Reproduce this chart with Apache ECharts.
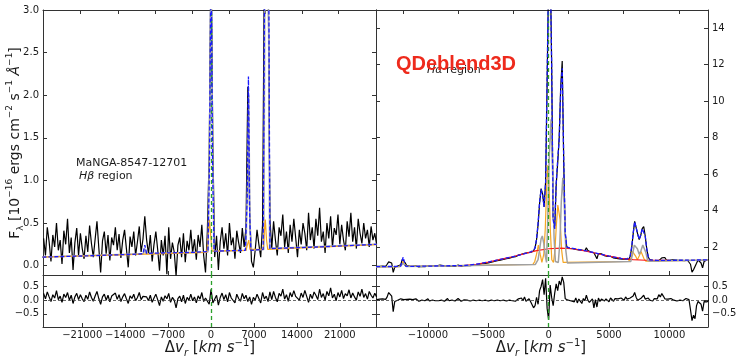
<!DOCTYPE html>
<html><head><meta charset="utf-8">
<script src="https://cdn.jsdelivr.net/npm/echarts@6/dist/echarts.min.js"></script>
<style>html,body{margin:0;padding:0;background:#fff}#c{width:740px;height:360px}</style>
</head><body><div id="c"></div>
<script>
// ---------------- DATA ----------------
// H-beta region (left panel): observed flux on a regular velocity grid
const hbVelStart = -27300, hbVelStep = 300;
const hbFlux = [
0.32,0.12,0.45,0.28,0.05,0.36,0.22,0.50,0.18,0.30,0.02,0.41,0.25,0.55,0.15,0.33,-0.05,0.27,0.44,0.12,
0.38,0.20,0.08,0.35,0.16,0.47,0.26,0.10,0.31,0.52,0.21,-0.08,0.29,0.40,0.14,0.36,0.06,0.33,0.24,0.45,
0.18,0.37,0.09,0.30,0.42,0.20,-0.02,0.34,0.22,0.40,0.12,0.28,0.46,0.16,0.31,
0.58,
0.30,0.14,0.36,0.05,0.25,0.40,0.19,-0.06,0.30,0.12,0.35,-0.10,0.45,0.08,0.27,0.16,-0.12,0.24,0.33,0.10,
0.38,0.04,0.29,0.18,0.42,0.15,0.31,0.07,0.36,0.22,0.48,0.12,-0.08,
0.40,1.30,3.70,1.40,0.10,
0.35,-0.05,0.28,0.45,0.20,0.38,0.12,0.50,0.24,0.33,0.08,0.41,0.27,0.15,0.44,0.22,
0.45,2.10,0.60,
0.05,-0.02,0.18,0.42,0.25,0.10,0.48,
3.60,3.80,3.60,0.55,
0.20,0.52,0.30,0.12,0.45,0.35,0.60,0.22,0.40,0.15,
0.48,0.28,0.55,0.33,0.10,0.42,0.25,0.50,0.38,0.18,
0.62,0.30,0.45,0.20,0.55,0.35,0.68,0.28,0.40,0.15,
0.50,0.32,0.58,0.22,0.44,0.36,0.60,0.25,0.48,0.30,
0.18,0.52,0.34,0.62,0.28,0.45,0.20,0.55,0.38,0.26,
0.50,0.32,0.42,0.22,0.46,0.30,0.38,0.25
];
const hbResid = [
0.25,0.05,0.30,0.12,-0.05,0.20,0.08,0.35,0.02,0.15,-0.08,0.22,0.10,0.28,0.00,0.18,-0.12,0.12,0.25,0.02,
0.20,0.05,-0.05,0.18,0.03,0.30,0.10,-0.04,0.15,0.32,0.06,-0.15,0.12,0.22,0.00,0.18,-0.06,0.15,0.08,0.26,
0.03,0.20,-0.05,0.12,0.24,0.05,-0.12,0.16,0.06,0.22,-0.02,0.10,0.28,0.02,0.14,0.15,0.12,-0.02,0.18,-0.08,
0.08,0.22,0.02,-0.20,0.12,-0.04,0.16,0.05,0.25,-0.08,0.10,0.00,-0.28,0.06,0.15,-0.06,0.18,-0.12,0.10,0.00,
0.22,-0.02,0.12,-0.10,0.16,0.04,0.28,-0.05,0.08,0.15,-0.15,0.40,-0.10,-0.06,0.18,-0.18,0.10,0.26,0.02,0.20,
-0.06,0.28,0.08,0.15,-0.10,0.22,0.06,-0.04,0.25,0.05,0.18,-0.05,0.12,-0.15,0.10,0.00,0.22,0.06,-0.10,0.28,
0.05,0.15,-0.05,0.30,0.02,0.32,0.10,-0.06,0.25,0.15,0.40,0.04,0.20,-0.04,0.28,0.12,0.35,0.14,0.20,0.00,
0.26,0.10,0.36,0.14,-0.08,0.22,0.06,0.30,0.18,0.02,0.40,0.10,0.24,0.00,0.32,0.16,0.45,0.08,0.22,-0.02,
0.28,0.12,0.36,0.06,0.24,0.16,0.38,0.08,0.26,0.12,0.00,0.30,0.14,0.40,0.10,0.24,0.04,0.32,0.18,0.08,0.25,0.12
];
// H-beta model curves: [velocity, flux]
const hbModel = [[-27500,0.10],[-20000,0.115],[-12000,0.135],[-11100,0.14],[-10800,0.24],[-10500,0.145],[-3000,0.155],[-500,0.165],[-250,1.2],[0,3.8],[250,1.2],[500,0.17],[5600,0.18],[5900,0.8],[6100,2.22],[6300,0.6],[6500,0.18],[8500,0.19],[8750,3.6],[9100,3.8],[9400,3.6],[9600,0.2],[18000,0.22],[27000,0.25]];
const hbNarrow = [[-27500,0.10],[-11000,0.14],[-10800,0.2],[-10600,0.14],[-500,0.16],[-250,1.5],[0,3.6],[250,1.5],[500,0.17],[5700,0.18],[6000,1.2],[6150,2.0],[6350,0.5],[6600,0.18],[8600,0.19],[8800,3.5],[9100,3.6],[9350,3.5],[9550,0.2],[27000,0.25]];
const hbBroad = [[-27500,0.10],[-700,0.155],[-450,0.35],[-250,0.54],[-50,0.35],[150,0.17],[5700,0.18],[5950,0.25],[6150,0.3],[6350,0.19],[8500,0.19],[8700,0.4],[8850,0.54],[9050,0.3],[9250,0.19],[27000,0.245]];

// H-alpha region (right panel)
const haVelStart = -14250, haVelStep = 125;
const haFlux = [
0.93,0.91,0.94,0.92,0.95,0.90,0.93,1.05,1.18,1.22,
1.12,0.60,0.88,0.93,0.95,0.92,1.02,1.32,1.42,1.12,
0.97,0.93,0.95,0.91,0.94,0.92,0.96,0.93,0.90,0.95,
0.93,0.97,0.92,0.94,0.96,0.91,0.95,0.93,0.98,0.94,
0.96,0.93,1.00,0.95,0.97,0.92,0.96,0.99,0.94,0.97,
0.95,0.99,0.93,0.97,1.01,0.96,0.94,0.99,0.97,1.02,
0.98,1.01,0.97,1.03,1.00,1.05,1.02,1.06,1.04,1.09,
1.08,1.12,1.10,1.15,1.13,1.18,1.16,1.22,1.20,1.26,
1.24,1.30,1.28,1.33,1.31,1.37,1.35,1.40,1.38,1.45,
1.44,1.48,1.46,1.52,1.55,1.53,1.60,1.58,1.65,1.62,
1.68,1.72,1.70,1.76,1.78,1.95,2.40,3.20,4.40,5.20,
4.90,4.20,5.60,11.0,17.0,18.0,12.0,3.60,3.00,5.40,
6.60,8.00,10.8,12.2,6.60,2.70,2.00,1.95,1.92,1.96,
1.90,1.93,1.87,1.91,1.84,1.88,1.82,1.85,1.79,1.95,
1.80,1.74,1.72,1.76,1.68,1.66,1.35,1.63,1.58,1.62,
1.56,1.52,1.55,1.48,1.45,1.49,1.42,1.40,1.43,1.37,
1.36,1.34,1.37,1.33,1.31,1.34,1.30,1.32,1.46,1.92,
2.70,3.40,3.30,2.70,2.40,2.62,3.00,3.12,2.60,1.90,
1.45,1.30,1.28,1.26,1.29,1.25,1.27,1.24,1.28,1.40,
1.46,1.42,1.28,1.32,1.27,1.25,1.29,1.26,1.28,1.25,
1.27,1.30,1.26,1.28,1.25,1.29,1.27,1.24,1.05,0.62,
0.75,0.68,1.10,1.28,1.26,1.12,0.85,1.20,1.30,1.28,1.31
];
const haResid = [
0.02,-0.03,0.04,0.00,0.05,-0.02,0.03,0.12,0.28,0.25,
0.15,-0.42,-0.05,0.02,0.00,-0.03,0.05,0.10,0.02,-0.04,
0.03,0.00,0.04,-0.03,0.02,-0.01,0.05,0.00,-0.04,0.03,
0.00,0.04,-0.02,0.03,0.05,-0.03,0.02,0.00,0.06,-0.02,
0.03,-0.02,0.05,0.00,0.04,-0.04,0.02,0.06,-0.02,0.03,
0.00,0.05,-0.03,0.02,0.06,0.00,-0.04,0.03,0.01,0.05,
0.00,0.03,-0.03,0.04,0.00,0.06,-0.02,0.03,0.00,0.05,
-0.02,0.04,0.00,0.05,-0.03,0.03,0.00,0.06,-0.02,0.04,
0.00,0.05,-0.02,0.03,0.00,0.06,-0.03,0.04,0.00,0.05,
-0.02,0.03,-0.04,0.02,0.05,0.00,0.08,-0.02,0.12,-0.04,
0.03,0.05,-0.05,0.00,-0.28,-0.20,0.10,-0.15,0.35,0.50,
0.75,0.20,0.80,-0.30,-0.72,0.55,0.10,-0.20,0.25,0.60,
0.35,0.70,0.55,0.85,0.65,0.05,-0.02,0.00,0.05,-0.03,
0.02,-0.06,0.08,-0.10,0.04,0.00,-0.12,0.06,-0.02,0.18,
0.00,-0.08,-0.15,0.05,-0.28,0.02,-0.25,0.08,-0.05,0.04,
0.10,-0.03,0.05,0.00,-0.06,0.08,0.02,-0.04,0.06,0.00,
0.05,-0.02,0.08,0.03,0.00,0.12,0.04,-0.03,0.08,0.02,
0.15,0.28,0.10,0.00,0.05,0.06,0.12,0.18,0.04,0.02,
0.08,0.00,0.05,-0.03,0.06,0.02,0.05,0.20,0.12,0.24,
0.15,0.05,0.00,0.04,-0.02,0.06,0.03,0.00,0.05,-0.03,
0.04,0.00,0.05,-0.02,0.03,0.06,0.00,0.02,-0.35,-0.75,
-0.55,-0.68,-0.20,-0.05,0.02,-0.15,-0.40,-0.05,0.02,-0.06,0.00
];
const haModel = [[-14300,0.92],[-12500,0.93],[-12250,0.95],[-12050,1.44],[-11850,0.95],[-11500,0.93],[-9000,0.96],[-7000,0.98],[-6000,1.05],[-5000,1.17],[-4000,1.32],[-3000,1.46],[-2000,1.63],[-1500,1.72],[-1250,1.82],[-1125,1.95],[-1000,2.45],[-875,3.3],[-750,4.45],[-625,5.15],[-500,4.85],[-375,4.2],[-250,5.5],[-125,11.5],[0,17],[125,18],[250,12],[375,3.5],[500,3.0],[625,5.5],[750,6.8],[875,7.9],[1000,10.6],[1125,11.8],[1250,6.8],[1375,2.8],[1500,2.0],[1750,1.94],[2000,1.92],[3000,1.8],[4000,1.65],[5000,1.5],[6000,1.37],[6500,1.33],[6625,1.34],[6750,1.5],[6875,2.0],[7000,2.75],[7125,3.38],[7250,3.3],[7375,2.72],[7500,2.42],[7625,2.65],[7750,3.0],[7875,3.08],[8000,2.6],[8125,1.9],[8250,1.45],[8375,1.29],[9000,1.26],[11000,1.27],[13200,1.29]];
const haNarrowB = [[-14300,0.90],[-12300,0.92],[-12050,1.1],[-11800,0.92],[-1100,1.04],[-875,1.3],[-750,1.85],[-625,2.45],[-525,2.6],[-400,2.2],[-275,1.5],[-175,1.15],[-75,3.5],[50,7.0],[200,9.0],[330,6.0],[450,2.5],[560,1.2],[800,1.15],[925,2.2],[1050,4.5],[1175,5.8],[1300,4.2],[1425,1.8],[1550,1.12],[6800,1.2],[6950,1.6],[7100,2.1],[7200,2.2],[7350,1.9],[7500,1.6],[7650,1.8],[7800,2.1],[7900,2.15],[8050,1.7],[8200,1.25],[8400,1.22],[13200,1.28]];
const haNarrowA = [[-14300,0.90],[-12400,0.92],[-12200,1.0],[-12050,1.22],[-11900,1.0],[-11700,0.93],[-1300,1.04],[-1150,1.2],[-1000,1.6],[-850,2.1],[-700,1.6],[-560,1.15],[-400,1.6],[-280,3.0],[-160,5.3],[-60,6.5],[40,5.2],[150,2.8],[260,1.3],[400,1.15],[520,1.8],[640,3.2],[760,4.3],[840,4.4],[950,3.5],[1080,1.8],[1200,1.15],[6600,1.2],[6800,1.35],[6950,1.75],[7050,1.8],[7200,1.5],[7350,1.3],[7500,1.5],[7650,1.75],[7750,1.7],[7900,1.35],[8050,1.22],[13200,1.28]];
const haBroadLine = [[-7500,0.96],[-7000,0.98],[-6000,1.05],[-5000,1.17],[-4000,1.32],[-3000,1.46],[-2000,1.63],[-1000,1.8],[0,1.9],[1000,1.94],[2000,1.9],[3000,1.78],[4000,1.64],[5000,1.5],[6000,1.37],[7000,1.3],[8000,1.27],[9000,1.26],[10000,1.26]];

// Tick values
const hbXTicks = [-21000,-14000,-7000,0,7000,14000,21000];
const hbTopTicks = [-21300,-15200,-9150,-3100,2900,8850,14800,20750];
const haXTicks = [-10000,-5000,0,5000,10000];
const haTopTicks = [-12070,-7500,-2930,1640,6210,10780];
const hbYTicks = [0,0.5,1.0,1.5,2.0,2.5,3.0];
const haYTicks = [2,4,6,8,10,12,14];
const resYTicks = [-0.5,0,0.5];

// ---------------- CHART ----------------
const FONT = 'DejaVu Sans';
const TXT = '#1a1a1a';
const AX = '#333';
const minus = s => String(s).replace('-', '\u2212');

function xAx(grid, min, max, pos, ticks, labels) {
  return {
    type: 'value', gridIndex: grid, min: min, max: max, position: pos,
    axisLine: { show: true, onZero: false, lineStyle: { color: AX, width: 1 } },
    axisTick: { show: true, inside: true, length: 4, customValues: ticks, lineStyle: { color: AX } },
    axisLabel: labels ? { show: true, customValues: ticks, margin: 3, fontSize: 10, fontFamily: FONT, color: TXT,
      formatter: v => minus(v) } : { show: false },
    splitLine: { show: false }
  };
}
function yAx(grid, min, max, pos, ticks, labels, fmt) {
  return {
    type: 'value', gridIndex: grid, min: min, max: max, position: pos,
    axisLine: { show: true, onZero: false, lineStyle: { color: AX, width: 1 } },
    axisTick: { show: true, inside: true, length: 4, customValues: ticks, lineStyle: { color: AX } },
    axisLabel: labels ? { show: true, customValues: ticks, margin: 4, fontSize: 10, fontFamily: FONT, color: TXT,
      formatter: fmt } : { show: false },
    splitLine: { show: false }
  };
}
const f1 = v => minus(Number(v).toFixed(1));
const f0 = v => minus(Math.round(v));

const hbObs = hbFlux.map((f, i) => [hbVelStart + i * hbVelStep, f]);
const hbRes = hbResid.map((f, i) => [hbVelStart + i * hbVelStep, f]);
const haObs = haFlux.map((f, i) => [haVelStart + i * haVelStep, f]);
const haRes = haResid.map((f, i) => [haVelStart + i * haVelStep, f]);

function ln(data, xi, yi, color, width, z, dashed, extra) {
  return Object.assign({
    type: 'line', data: data, xAxisIndex: xi, yAxisIndex: yi, symbol: 'none', showSymbol: false,
    silent: true, z: z, clip: true,
    lineStyle: { color: color, width: width, type: dashed ? [4, 2] : 'solid' }
  }, extra || {});
}
const greenLine = { xAxis: 0, lineStyle: { color: '#2ca02c', type: [4, 3], width: 1.3 } };
const zeroLine = { yAxis: 0, lineStyle: { color: '#444', type: [3, 2], width: 0.8 } };
const ml = arr => ({ markLine: { silent: true, symbol: 'none', label: { show: false }, animation: false, data: arr } });

const chart = echarts.init(document.getElementById('c'), null, { renderer: 'canvas' });
chart.setOption({
  animation: false,
  backgroundColor: '#fff',
  grid: [
    { left: 43, top: 10, width: 333, height: 265 },
    { left: 376, top: 10, width: 332, height: 265 },
    { left: 43, top: 275, width: 333, height: 52 },
    { left: 376, top: 275, width: 332, height: 52 }
  ],
  xAxis: [
    xAx(0, -27400, 26900, 'bottom', hbXTicks, false),
    xAx(0, -27400, 26900, 'top', hbTopTicks, false),
    xAx(1, -14300, 13200, 'bottom', haXTicks, false),
    xAx(1, -14300, 13200, 'top', haTopTicks, false),
    xAx(2, -27400, 26900, 'bottom', hbXTicks, true),
    xAx(3, -14300, 13200, 'bottom', haXTicks, true)
  ],
  yAxis: [
    yAx(0, -0.11, 3.0, 'left', hbYTicks, true, f1),
    yAx(0, -0.11, 3.0, 'right', hbYTicks, false),
    yAx(1, 0.46, 15.0, 'right', haYTicks, true, f0),
    yAx(1, 0.46, 15.0, 'left', haYTicks, false),
    yAx(2, -0.98, 0.92, 'left', resYTicks, true, f1),
    yAx(2, -0.98, 0.92, 'right', resYTicks, false),
    yAx(3, -0.98, 0.92, 'right', resYTicks, true, f1),
    yAx(3, -0.98, 0.92, 'left', resYTicks, false)
  ],
  series: [
    ln(hbObs, 0, 0, '#000', 1.2, 2),
    ln(hbNarrow, 0, 0, '#a8a8a8', 1.5, 3),
    ln(hbBroad, 0, 0, '#f5a623', 1.2, 4),
    ln(hbModel, 0, 0, '#1a1aff', 1.3, 5, true, ml([greenLine])),

    ln(haObs, 2, 2, '#000', 1.2, 2),
    ln(haNarrowA, 2, 2, '#f5a623', 1.2, 3),
    ln(haBroadLine, 2, 2, '#ff1a1a', 1.2, 4),
    ln(haNarrowB, 2, 2, '#a0a0a0', 1.5, 4),
    ln(haModel, 2, 2, '#1a1aff', 1.3, 5, true, ml([greenLine])),

    ln(hbRes, 4, 4, '#000', 1.2, 2, false, ml([zeroLine, greenLine])),
    ln(haRes, 5, 6, '#000', 1.2, 2, false, ml([zeroLine, greenLine]))
  ],
  graphic: [
    { type: 'text', x: 15, y: 143, rotation: Math.PI / 2, z: 10,
      style: { text: 'F{sub|\u03bb} [10{sup|\u221216} ergs cm{sup|\u22122} s{sup|\u22121} {it|\u00c5}{sup|\u22121}]',
        align: 'center', verticalAlign: 'middle', fill: TXT, fontSize: 14, fontFamily: FONT,
        rich: {
          sub: { fontSize: 9, fontFamily: FONT, fill: TXT, verticalAlign: 'bottom', lineHeight: 20 },
          sup: { fontSize: 9, fontFamily: FONT, fill: TXT, verticalAlign: 'top', lineHeight: 20 },
          it: { fontSize: 14, fontFamily: FONT, fontStyle: 'italic', fill: TXT, lineHeight: 20 }
        } } },
    { type: 'text', x: 210, y: 348, z: 10,
      style: { text: '\u0394{it|v}{sub|r} [{it|km s}{sup|\u22121}]', align: 'center', verticalAlign: 'middle',
        fill: TXT, fontSize: 15, fontFamily: FONT,
        rich: {
          it: { fontSize: 15, fontFamily: FONT, fontStyle: 'italic', fill: TXT, lineHeight: 20 },
          sub: { fontSize: 10, fontFamily: FONT, fontStyle: 'italic', fill: TXT, verticalAlign: 'bottom', lineHeight: 20 },
          sup: { fontSize: 10, fontFamily: FONT, fill: TXT, verticalAlign: 'top', lineHeight: 20 }
        } } },
    { type: 'text', x: 541, y: 348, z: 10,
      style: { text: '\u0394{it|v}{sub|r} [{it|km s}{sup|\u22121}]', align: 'center', verticalAlign: 'middle',
        fill: TXT, fontSize: 15, fontFamily: FONT,
        rich: {
          it: { fontSize: 15, fontFamily: FONT, fontStyle: 'italic', fill: TXT, lineHeight: 20 },
          sub: { fontSize: 10, fontFamily: FONT, fontStyle: 'italic', fill: TXT, verticalAlign: 'bottom', lineHeight: 20 },
          sup: { fontSize: 10, fontFamily: FONT, fill: TXT, verticalAlign: 'top', lineHeight: 20 }
        } } },
    { type: 'text', x: 76, y: 163, z: 10,
      style: { text: 'MaNGA-8547-12701', align: 'left', verticalAlign: 'middle', fill: TXT, fontSize: 11, fontFamily: FONT } },
    { type: 'text', x: 79, y: 176, z: 10,
      style: { text: '{it|H\u03b2} region', align: 'left', verticalAlign: 'middle', fill: TXT, fontSize: 11, fontFamily: FONT,
        rich: { it: { fontSize: 11, fontFamily: FONT, fontStyle: 'italic', fill: TXT } } } },
    { type: 'text', x: 427, y: 70, z: 10,
      style: { text: '{it|H\u03b1} region', align: 'left', verticalAlign: 'middle', fill: TXT, fontSize: 11, fontFamily: FONT,
        rich: { it: { fontSize: 11, fontFamily: FONT, fontStyle: 'italic', fill: TXT } } } },
    { type: 'text', x: 396, y: 64, z: 20,
      style: { text: 'QDeblend3D', align: 'left', verticalAlign: 'middle', fill: '#ee2a1c', fontSize: 20,
        fontWeight: 'bold', fontFamily: 'Liberation Sans' } }
  ]
});
</script>
</body></html>
